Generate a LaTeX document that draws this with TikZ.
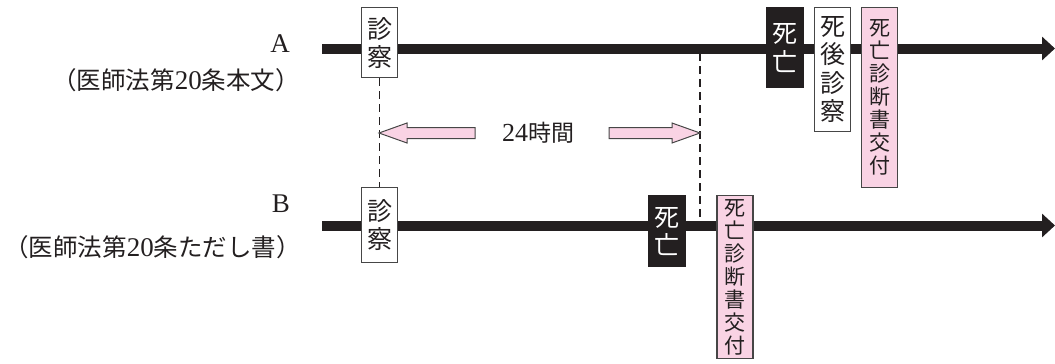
\documentclass[tikz,border=0pt]{standalone}
\usepackage{fontspec}
\setmainfont{Liberation Serif}
\newfontfamily\cjk{Noto Sans CJK JP}
\usetikzlibrary{arrows.meta}
\definecolor{pinkf}{RGB}{249,211,228}
\definecolor{ink}{RGB}{35,31,32}
\definecolor{edge}{RGB}{70,70,70}
\tikzset{
  timeline/.style={line width=10, ink, -{Triangle[length=13, width=23]}},
  vbox/.style={draw=edge, line width=1.2, inner sep=0, minimum width=36, anchor=north, align=center, text=ink},
  whitebox/.style={vbox, fill=white},
  pinkbox/.style={vbox, fill=pinkf},
  blackbox/.style={vbox, fill=ink, draw=ink, text=white},
  guide/.style={dash pattern=on 8 off 5, line width=1.3, ink},
  hollow/.style={fill=pinkf, draw=edge, line width=1},
  lbl/.style={anchor=east, inner sep=0, text=ink},
}
\newcommand{\vfs}[2]{\fontsize{#1}{#2}\selectfont\cjk}
\begin{document}
\begin{tikzpicture}[x=1pt,y=-1pt]
\useasboundingbox (0,0) rectangle (1055,364);
% labels
\node[lbl, font=\fontsize{27}{29}\selectfont] (la) at (290,44) {A};
\node[lbl, font=\fontsize{27}{29}\selectfont] (lat) at (300,80) {{\fontsize{24.5}{27}\selectfont\cjk （医師法第}20{\fontsize{24.5}{27}\selectfont\cjk 条本文）}};
\node[lbl, font=\fontsize{27}{29}\selectfont] (lb) at (290,204) {B};
\node[lbl, font=\fontsize{27}{29}\selectfont] (lbt) at (301,247) {{\fontsize{24.5}{27}\selectfont\cjk （医師法第}20{\fontsize{24.5}{27}\selectfont\cjk 条ただし書）}};
% timeline coordinates
\coordinate (a0) at (322,48.5);
\coordinate (a1) at (1055,48.5);
\coordinate (b0) at (322,225.5);
\coordinate (b1) at (1055,225.5);
\coordinate (d0) at (700,53);
\coordinate (d1) at (700,225);
\draw[guide] (d0) -- (d1);
\draw[timeline] (a0) -- (a1);
\draw[timeline] (b0) -- (b1);
% boxes on A
\node[whitebox, minimum height=70, font=\vfs{25}{28}] (sa) at (379.5,7) {診\\察};
\node[blackbox, minimum height=80, font=\vfs{25}{29}] (da) at (785,7) {死\\亡};
\node[whitebox, minimum height=124, font=\vfs{25}{28.5}] (pa) at (832.5,7) {死\\後\\診\\察};
\node[pinkbox, minimum height=180, font=\vfs{21}{23}] (ca) at (879.5,7) {死\\亡\\診\\断\\書\\交\\付};
% boxes on B
\node[whitebox, minimum height=75, font=\vfs{25}{28}] (sb) at (379.5,187) {診\\察};
\node[blackbox, minimum height=71, font=\vfs{25}{28}] (db) at (667,195) {死\\亡};
\node[pinkbox, minimum height=163, font=\vfs{21}{23}] (cb) at (735,195) {死\\亡\\診\\断\\書\\交\\付};
% dashed guide
\draw[guide] (sa.south) -- (sb.north);
% 24 hours arrows
\node[font=\fontsize{26}{28}\selectfont, text=ink] (h) at (538,133) {24{\fontsize{23}{25}\selectfont\cjk 時間}};
\draw[hollow] (379,133) -- (407,123) -- (407,127.5) -- (475,127.5) -- (475,138.5) -- (407,138.5) -- (407,143) -- cycle;
\draw[hollow] (700,133) -- (672,123) -- (672,127.5) -- (609,127.5) -- (609,138.5) -- (672,138.5) -- (672,143) -- cycle;
\end{tikzpicture}
\end{document}
